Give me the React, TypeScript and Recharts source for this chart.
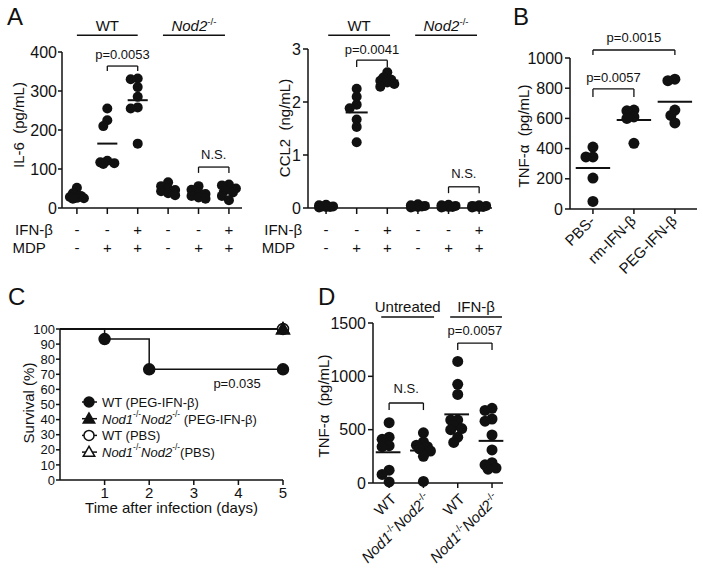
import React from "react";
import {
  ScatterChart,
  Scatter,
  LineChart,
  Line,
  XAxis,
  YAxis,
  ReferenceLine,
  ReferenceDot,
  Legend,
} from "recharts";

const FONT = "'Liberation Sans', Arial, Helvetica, sans-serif";
const INK = "#111";

// A: IL-6 (pg/mL) and CCL2 (ng/mL), WT then Nod2-/-
const il6Values = [
  [52, 38, 31, 28, 26, 25, 24],
  [255, 225, 210, 121, 117, 115, 113],
  [332, 330, 310, 285, 258, 255, 165],
  [66, 56, 50, 46, 43, 38, 33],
  [56, 47, 40, 36, 31, 27, 24],
  [60, 58, 50, 45, 40, 31, 20],
];
const ccl2Values = [
  [0.06, 0.05, 0.03, 0.03, 0.02, 0.02, 0.01],
  [2.25, 2.1, 1.95, 1.88, 1.67, 1.53, 1.24],
  [2.56, 2.46, 2.42, 2.4, 2.37, 2.34, 2.29],
  [0.07, 0.05, 0.04, 0.03, 0.03, 0.02, 0.01],
  [0.06, 0.05, 0.04, 0.03, 0.02, 0.02, 0.01],
  [0.05, 0.04, 0.04, 0.03, 0.02, 0.02, 0.01],
];
const ifnRow = ["-", "-", "+", "-", "-", "+"];
const mdpRow = ["-", "+", "+", "-", "+", "+"];

// B: TNF-a
const tnfLabelsB = ["PBS-", "rm-IFN-β", "PEG-IFN-β"];
const tnfValuesB = [
  [410, 345, 345, 205, 50],
  [655, 650, 610, 600, 435],
  [860, 850, 655, 620, 570],
];

// C: survival
const survDaysWt = [0, 1, 2, 5];
const survWtPeg = [100, 93.3, 73.3, 73.3];
const survDaysCtrl = [0, 5];
const survNodPeg = [100, 100];
const survWtPbs = [100, 100];
const survNodPbs = [100, 100];
const survNames = ["WT (PEG-IFN-β)", "Nod1-/-Nod2-/- (PEG-IFN-β)", "WT (PBS)", "Nod1-/-Nod2-/-(PBS)"];

// D: TNF-a untreated / IFN-b
const tnfLabelsD = ["WT", "Nod1-/-Nod2-/-", "WT", "Nod1-/-Nod2-/-"];
const tnfValuesD = [
  [565, 430, 410, 350, 340, 120, 80, 10],
  [470, 385, 355, 340, 320, 300, 250, 15],
  [1140, 925, 830, 590, 590, 540, 510, 500, 430, 380],
  [700, 680, 600, 580, 450, 310, 190, 170, 140, 130],
];

const axisLine = { stroke: INK, strokeWidth: 1.5 };
const tickFont = { fill: INK, fontSize: 16, fontFamily: FONT };

const SLOTS = [0, -4, 4, -7, 7];

// simple beeswarm so dots of one group don't sit exactly on top of each other
function swarm(vals: number[], pxPerUnit: number, gap: number) {
  const placed: { x: number; y: number }[] = [];
  return vals.map((v) => {
    const y = v * pxPerUnit;
    let best = 0;
    let bestD = -1;
    for (const s of SLOTS) {
      const d = placed.reduce((m, p) => Math.min(m, Math.hypot(p.x - s, p.y - y)), Infinity);
      if (d >= gap) {
        best = s;
        break;
      }
      if (d > bestD) {
        bestD = d;
        best = s;
      }
    }
    placed.push({ x: best, y });
    return best;
  });
}

function toPoints(groups: number[][], pxPerUnit: number) {
  return groups.flatMap((vals, g) => {
    const js = swarm(vals, pxPerUnit, 6);
    return vals.map((v, i) => ({ x: g, y: v, j: js[i] }));
  });
}

const mean = (a: number[]) => a.reduce((s, v) => s + v, 0) / a.length;

const dotShape = (r: number) => (p: any) => (
  <circle cx={p.cx + (p.payload?.j ?? 0)} cy={p.cy} r={r} fill={INK} />
);

// italic gene names with -/- superscripts
function richText(str: string, size: number) {
  const parts = str.split("-/-");
  const shift = Math.round(size * 0.4);
  const out: any[] = [];
  let shifted = false;
  parts.forEach((part, i) => {
    if (part) {
      const m = part.match(/^(Nod\d)(.*)$/);
      if (m) {
        out.push(
          <tspan key={i + "a"} dy={shifted ? shift : undefined} fontStyle="italic">
            {m[1]}
          </tspan>
        );
        if (m[2]) out.push(<tspan key={i + "b"}>{m[2]}</tspan>);
      } else {
        out.push(
          <tspan key={i + "c"} dy={shifted ? shift : undefined}>
            {part}
          </tspan>
        );
      }
      shifted = false;
    }
    if (i < parts.length - 1) {
      out.push(
        <tspan key={i + "s"} dy={-shift} fontSize={size * 0.65}>
          -/-
        </tspan>
      );
      shifted = true;
    }
  });
  return out;
}

function meanLines(groups: number[][], half: number, shift = 0) {
  return groups.map((vals, g) => (
    <ReferenceLine
      key={"m" + g}
      segment={[
        { x: g - half + shift, y: mean(vals) },
        { x: g + half + shift, y: mean(vals) },
      ]}
      stroke={INK}
      strokeWidth={2}
      ifOverflow="visible"
    />
  ));
}

function bracket(key: string, x1: number, x2: number, top: number, leg: number, text: string, offset: number) {
  const st = { stroke: INK, strokeWidth: 1.3, ifOverflow: "visible" as const };
  return [
    <ReferenceLine
      key={key + "t"}
      segment={[
        { x: x1, y: top },
        { x: x2, y: top },
      ]}
      {...st}
      label={{ value: text, position: "top", offset, fill: INK, fontSize: 13, fontFamily: FONT }}
    />,
    <ReferenceLine
      key={key + "l"}
      segment={[
        { x: x1, y: top },
        { x: x1, y: leg },
      ]}
      {...st}
    />,
    <ReferenceLine
      key={key + "r"}
      segment={[
        { x: x2, y: top },
        { x: x2, y: leg },
      ]}
      {...st}
    />,
  ];
}

const richHeader = (text: string, offset: number) => (props: any) => {
  const vb = props.viewBox || {};
  const cx = (vb.x ?? 0) + (vb.width ?? 0) / 2;
  return (
    <text x={cx} y={(vb.y ?? 0) - offset} textAnchor="middle" fill={INK} fontSize={15} fontFamily={FONT}>
      {richText(text, 15)}
    </text>
  );
};

function header(key: string, x1: number, x2: number, y: number, text: string, offset: number) {
  return (
    <ReferenceLine
      key={key}
      segment={[
        { x: x1, y },
        { x: x2, y },
      ]}
      stroke={INK}
      strokeWidth={1.5}
      ifOverflow="visible"
      label={richHeader(text, offset)}
    />
  );
}

function StimTick(props: any) {
  const { x, y, payload } = props;
  const i = payload.value;
  const t = { fill: INK, fontSize: 15, fontFamily: FONT, dominantBaseline: "central" as const };
  return (
    <g>
      <text x={x} y={y + 13} textAnchor="middle" {...t}>
        {ifnRow[i]}
      </text>
      <text x={x} y={y + 31} textAnchor="middle" {...t}>
        {mdpRow[i]}
      </text>
      {i === 0 && (
        <>
          <text x={x - 24} y={y + 13} textAnchor="end" {...t}>
            IFN-β
          </text>
          <text x={x - 31} y={y + 31} textAnchor="end" {...t}>
            MDP
          </text>
        </>
      )}
    </g>
  );
}

function PanelIL6() {
  const pts = toPoints(il6Values, 0.39);
  return (
    <ScatterChart width={242} height={260} margin={{ top: 52, right: 0, bottom: 0, left: 0 }}>
      <XAxis
        type="number"
        dataKey="x"
        domain={[-0.49, 5.43]}
        ticks={[0, 1, 2, 3, 4, 5]}
        interval={0}
        height={52}
        tickSize={6}
        axisLine={axisLine}
        tickLine={axisLine}
        tick={(p: any) => <StimTick {...p} />}
      />
      <YAxis
        type="number"
        dataKey="y"
        domain={[0, 400]}
        ticks={[0, 100, 200, 300, 400]}
        interval={0}
        width={62}
        tickSize={4}
        tickMargin={1}
        axisLine={axisLine}
        tickLine={axisLine}
        tick={tickFont}
      />
      <Scatter data={pts} shape={dotShape(5)} isAnimationActive={false} />
      {meanLines(il6Values, 0.33)}
      {header("h1", 0, 2, 443, "WT", 4)}
      {header("h2", 2.83, 4.87, 443, "Nod2-/-", 4)}
      {bracket("b1", 1, 2, 364, 351, "p=0.0053", 7)}
      {bracket("b2", 4, 5, 105, 90, "N.S.", 8)}
    </ScatterChart>
  );
}

function PanelCCL2() {
  const pts = toPoints(ccl2Values, 53);
  return (
    <ScatterChart width={262} height={260} margin={{ top: 49, right: 10, bottom: 0, left: 0 }}>
      <XAxis
        type="number"
        dataKey="x"
        domain={[-0.59, 5.42]}
        ticks={[0, 1, 2, 3, 4, 5]}
        interval={0}
        height={52}
        tickSize={6}
        axisLine={axisLine}
        tickLine={axisLine}
        tick={(p: any) => <StimTick {...p} />}
      />
      <YAxis
        type="number"
        dataKey="y"
        domain={[0, 3]}
        ticks={[0, 1, 2, 3]}
        interval={0}
        width={68}
        tickSize={5}
        tickMargin={2}
        axisLine={axisLine}
        tickLine={axisLine}
        tick={tickFont}
      />
      <Scatter data={pts} shape={dotShape(5)} isAnimationActive={false} />
      {meanLines(ccl2Values, 0.36)}
      {header("h1", 0.07, 2.09, 3.26, "WT", 4)}
      {header("h2", 2.91, 4.93, 3.26, "Nod2-/-", 4)}
      {bracket("b1", 1, 2, 2.79, 2.66, "p=0.0041", 6)}
      {bracket("b2", 4, 5, 0.4, 0.28, "N.S.", 9)}
    </ScatterChart>
  );
}

function RotTickB(props: any) {
  const { x, y, payload } = props;
  const ax = x + 3;
  const ay = y + 6;
  return (
    <text x={ax} y={ay} transform={`rotate(-45 ${ax} ${ay})`} textAnchor="end" fill={INK} fontSize={15} fontFamily={FONT}>
      {tnfLabelsB[payload.value]}
    </text>
  );
}

function PanelB() {
  const pts = toPoints(tnfValuesB, 0.151);
  return (
    <ScatterChart width={226} height={300} margin={{ top: 58, right: 9, bottom: 0, left: 0 }}>
      <XAxis
        type="number"
        dataKey="x"
        domain={[-0.56, 2.54]}
        ticks={[0, 1, 2]}
        interval={0}
        height={91}
        tickSize={5}
        axisLine={axisLine}
        tickLine={axisLine}
        tick={(p: any) => <RotTickB {...p} />}
      />
      <YAxis
        type="number"
        dataKey="y"
        domain={[0, 1000]}
        ticks={[0, 200, 400, 600, 800, 1000]}
        interval={0}
        width={90}
        tickSize={5}
        tickMargin={2}
        axisLine={axisLine}
        tickLine={axisLine}
        tick={tickFont}
      />
      <Scatter data={pts} shape={dotShape(5.5)} isAnimationActive={false} />
      {meanLines(tnfValuesB, 0.42)}
      {bracket("b1", 0, 2, 1053, 1020, "p=0.0015", 8)}
      {bracket("b2", 0, 1, 795, 742, "p=0.0057", 7)}
    </ScatterChart>
  );
}

function RotTickD(props: any) {
  const { x, y, payload } = props;
  const ax = x + 8;
  const ay = y + 10;
  return (
    <text x={ax} y={ay} transform={`rotate(-45 ${ax} ${ay})`} textAnchor="end" fill={INK} fontSize={15} fontFamily={FONT}>
      {richText(tnfLabelsD[payload.value], 15)}
    </text>
  );
}

function PanelD() {
  const pts = toPoints(tnfValuesD, 0.1067);
  return (
    <ScatterChart width={220} height={278} margin={{ top: 33, right: 17, bottom: 0, left: 0 }}>
      <XAxis
        type="number"
        dataKey="x"
        domain={[-0.47, 3.32]}
        ticks={[0, 1, 2, 3]}
        interval={0}
        height={85}
        tickSize={5}
        axisLine={axisLine}
        tickLine={axisLine}
        tick={(p: any) => <RotTickD {...p} />}
      />
      <YAxis
        type="number"
        dataKey="y"
        domain={[0, 1500]}
        ticks={[0, 500, 1000, 1500]}
        interval={0}
        width={73}
        tickSize={5}
        tickMargin={2}
        axisLine={axisLine}
        tickLine={axisLine}
        tick={tickFont}
      />
      <Scatter data={pts} shape={dotShape(5.5)} isAnimationActive={false} />
      {meanLines(tnfValuesD, 0.36, -0.03)}
      {header("h1", -0.23, 1.31, 1556, "Untreated", 5)}
      {header("h2", 1.78, 3.29, 1556, "IFN-β", 5)}
      {bracket("b1", 2, 3, 1312, 1247, "p=0.0057", 8)}
      {bracket("b2", 0, 1, 750, 684, "N.S.", 10)}
    </ScatterChart>
  );
}

function Marker({ cx, cy, kind, filled, r }: any) {
  const fill = filled ? INK : "#fff";
  if (kind === "circle") return <circle cx={cx} cy={cy} r={r} fill={fill} stroke={INK} strokeWidth={1.5} />;
  const pts = `${cx},${cy - r * 1.15} ${cx - r * 1.15},${cy + r * 0.85} ${cx + r * 1.15},${cy + r * 0.85}`;
  return <polygon points={pts} fill={fill} stroke={INK} strokeWidth={1.5} />;
}

const survStyles = [
  { kind: "circle", filled: true },
  { kind: "triangle", filled: true },
  { kind: "circle", filled: false },
  { kind: "triangle", filled: false },
];

function SurvLegend() {
  return (
    <svg width={190} height={70} style={{ display: "block" }}>
      {survNames.map((name, i) => {
        const cy = 8 + i * 16.7;
        return (
          <g key={name}>
            <line x1={4} x2={19} y1={cy} y2={cy} stroke={INK} strokeWidth={1.5} />
            <Marker cx={11} cy={cy} r={5} {...survStyles[i]} />
            <text x={24} y={cy} dominantBaseline="central" fill={INK} fontSize={13} fontFamily={FONT}>
              {richText(name, 13)}
            </text>
          </g>
        );
      })}
    </svg>
  );
}

function PanelC() {
  const wtPeg = survDaysWt.map((d, i) => ({ d, s: survWtPeg[i] }));
  const nodPeg = survDaysCtrl.map((d, i) => ({ d, s: survNodPeg[i] }));
  const wtPbs = survDaysCtrl.map((d, i) => ({ d, s: survWtPbs[i] }));
  const nodPbs = survDaysCtrl.map((d, i) => ({ d, s: survNodPbs[i] }));
  const dotFor = (style: any) => (p: any) =>
    p.payload?.d === 0 ? <g key={p.index} /> : <Marker key={p.index} cx={p.cx} cy={p.cy} r={5.5} {...style} />;
  return (
    <LineChart width={300} height={230} margin={{ top: 29, right: 17, bottom: 0, left: 0 }}>
      <XAxis
        type="number"
        dataKey="d"
        domain={[0, 5]}
        ticks={[1, 2, 3, 4, 5]}
        interval={0}
        height={50}
        tickSize={5}
        tickMargin={2}
        axisLine={axisLine}
        tickLine={axisLine}
        tick={{ ...tickFont, fontSize: 15 }}
        allowDuplicatedCategory={false}
        label={{ value: "Time after infection (days)", position: "insideBottom", offset: 17, fill: INK, fontSize: 15, fontFamily: FONT }}
      />
      <YAxis
        type="number"
        domain={[0, 100]}
        ticks={[0, 10, 20, 30, 40, 50, 60, 70, 80, 90, 100]}
        interval={0}
        width={60}
        tickSize={4}
        tickMargin={1}
        axisLine={axisLine}
        tickLine={axisLine}
        tick={{ ...tickFont, fontSize: 13 }}
      />
      <Line data={wtPbs} dataKey="s" type="stepAfter" stroke={INK} strokeWidth={1.5} dot={dotFor(survStyles[2])} isAnimationActive={false} />
      <Line data={nodPbs} dataKey="s" type="stepAfter" stroke={INK} strokeWidth={1.5} dot={dotFor(survStyles[3])} isAnimationActive={false} />
      <Line data={nodPeg} dataKey="s" type="stepAfter" stroke={INK} strokeWidth={1.5} dot={dotFor(survStyles[1])} isAnimationActive={false} />
      <Line data={wtPeg} dataKey="s" type="stepAfter" stroke={INK} strokeWidth={1.5} dot={dotFor(survStyles[0])} isAnimationActive={false} />
      <ReferenceDot x={3.97} y={64} r={0} stroke="none" label={{ value: "p=0.035", position: "center", fill: INK, fontSize: 13, fontFamily: FONT }} />
      <Legend
        layout="vertical"
        align="center"
        verticalAlign="middle"
        wrapperStyle={{ left: 78, top: 94, width: 190, height: 70 }}
        content={() => <SurvLegend />}
      />
    </LineChart>
  );
}

function YLabel({ x, y, text }: { x: number; y: number; text: string }) {
  return (
    <text
      transform={`translate(${x} ${y}) rotate(-90)`}
      textAnchor="middle"
      dominantBaseline="central"
      fill={INK}
      fontSize={15}
      fontFamily={FONT}
      style={{ whiteSpace: "pre" }}
    >
      {text}
    </text>
  );
}

export default function App() {
  const letter = { fill: INK, fontSize: 24, fontFamily: FONT };
  return (
    <div style={{ position: "absolute", left: 0, top: 0, width: 706, height: 568, background: "#fff", overflow: "hidden" }}>
      <div style={{ position: "absolute", left: 0, top: 0 }}>
        <PanelIL6 />
      </div>
      <div style={{ position: "absolute", left: 240, top: 0 }}>
        <PanelCCL2 />
      </div>
      <div style={{ position: "absolute", left: 480, top: 0 }}>
        <PanelB />
      </div>
      <div style={{ position: "absolute", left: 0, top: 300 }}>
        <PanelC />
      </div>
      <div style={{ position: "absolute", left: 300, top: 290 }}>
        <PanelD />
      </div>
      <svg width={706} height={568} style={{ position: "absolute", left: 0, top: 0, pointerEvents: "none" }}>
        <text x={7} y={25} {...letter}>A</text>
        <text x={513} y={25} {...letter}>B</text>
        <text x={8} y={305} {...letter}>C</text>
        <text x={318} y={305} {...letter}>D</text>
        <YLabel x={18} y={125} text="IL-6  (pg/mL)" />
        <YLabel x={284} y={128} text="CCL2  (ng/mL)" />
        <YLabel x={523} y={136} text="TNF-α  (pg/mL)" />
        <YLabel x={28} y={403} text="Survival (%)" />
        <YLabel x={323} y={406} text="TNF-α  (pg/mL)" />
      </svg>
    </div>
  );
}
